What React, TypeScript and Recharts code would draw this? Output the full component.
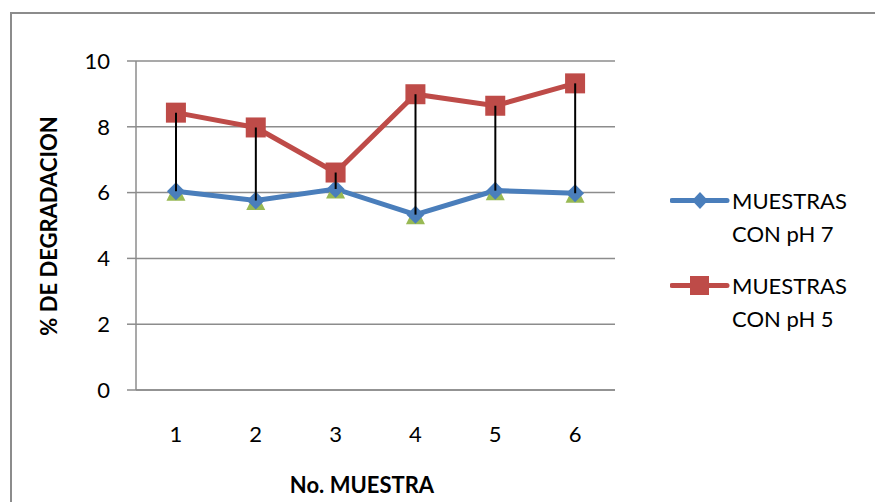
import React from 'react'
import { ComposedChart, Line, Bar, XAxis, YAxis, CartesianGrid } from 'recharts'

const categories = ['1', '2', '3', '4', '5', '6']
const ph7Values = [6.04, 5.76, 6.11, 5.33, 6.06, 5.98]
const ph5Values = [8.43, 7.98, 6.61, 8.99, 8.64, 9.32]
const serie3Values = [6.04, 5.76, 6.11, 5.33, 6.06, 5.98]
const yTicks = [0, 2, 4, 6, 8, 10]

const BLUE = '#4a7ebb'
const RED = '#be4b48'
const GREEN = '#98b954'
const GRID = '#8c8c8c'
const FONT = 'Lato, "Open Sans", sans-serif'

const data = categories.map((name, i) => {
  const vals = [ph7Values[i], ph5Values[i], serie3Values[i]]
  return {
    name,
    ph7: ph7Values[i],
    ph5: ph5Values[i],
    s3: serie3Values[i],
    hiLo: [Math.min(...vals), Math.max(...vals)],
  }
})

const diamond = (p: any) => {
  const { cx, cy, index } = p
  const r = 9
  return (
    <path key={`d-${index}`} d={`M${cx},${cy - r}L${cx + r},${cy}L${cx},${cy + r}L${cx - r},${cy}Z`} fill={BLUE} />
  )
}

const square = (p: any) => {
  const { cx, cy, index } = p
  const r = 10
  return <rect key={`s-${index}`} x={cx - r} y={cy - r} width={r * 2} height={r * 2} fill={RED} />
}

const triangle = (p: any) => {
  const { cx, cy, index } = p
  const r = 9.5
  return <path key={`t-${index}`} d={`M${cx},${cy - r}L${cx + r},${cy + r}L${cx - r},${cy + r}Z`} fill={GREEN} />
}

const legendItems = [
  { lines: ['MUESTRAS', 'CON pH 7'], color: BLUE, marker: 'diamond' },
  { lines: ['MUESTRAS', 'CON pH 5'], color: RED, marker: 'square' },
]

function LegendBox() {
  return (
    <div style={{ fontFamily: FONT, fontSize: 22, color: '#000' }}>
      {legendItems.map((item, i) => (
        <div key={i} style={{ display: 'flex', alignItems: 'flex-start', marginBottom: 19 }}>
          <svg width={62} height={33} style={{ display: 'block' }}>
            <line x1={2} y1={16.5} x2={57} y2={16.5} stroke={item.color} strokeWidth={5} strokeLinecap="round" />
            {item.marker === 'diamond' ? (
              <path d="M30,8L38,16.5L30,25L22,16.5Z" fill={item.color} />
            ) : (
              <rect x={20} y={7} width={19} height={19} fill={item.color} />
            )}
          </svg>
          <div style={{ lineHeight: '33px' }}>
            {item.lines.map((l) => (
              <div key={l}>{l}</div>
            ))}
          </div>
        </div>
      ))}
    </div>
  )
}

export default function App() {
  return (
    <div style={{ position: 'absolute', left: 0, top: 0, width: 875, height: 502, overflow: 'hidden', background: '#fff' }}>
      <div
        style={{
          position: 'absolute',
          left: 10,
          top: 12,
          width: 900,
          height: 540,
          border: `2px solid ${GRID}`,
        }}
      />
      <div style={{ position: 'absolute', left: 0, top: 0 }}>
        <ComposedChart width={875} height={502} data={data} margin={{ top: 61, right: 260, bottom: 0, left: 0 }}>
          <CartesianGrid vertical={false} stroke={GRID} strokeWidth={1.5} />
          <XAxis
            dataKey="name"
            height={112}
            axisLine={{ stroke: GRID, strokeWidth: 1.5 }}
            tickLine={false}
            tickSize={0}
            tickMargin={36}
            tick={{ fill: '#000', fontSize: 22, fontFamily: FONT }}
            label={{
              content: () => (
                <text x={362} y={493} textAnchor="middle" fontFamily={FONT} fontSize={22} fontWeight="bold" fill="#000">
                  No. MUESTRA
                </text>
              ),
            }}
          />
          <YAxis
            width={136}
            domain={[0, 10]}
            ticks={yTicks}
            axisLine={{ stroke: GRID, strokeWidth: 1.5 }}
            tickLine={{ stroke: GRID, strokeWidth: 1.5 }}
            tickSize={9}
            tickMargin={17}
            tick={{ fill: '#000', fontSize: 22, fontFamily: FONT }}
            label={{
              content: () => (
                <text
                  x={48}
                  y={226}
                  transform="rotate(-90 48 226)"
                  textAnchor="middle"
                  dominantBaseline="central"
                  fontFamily={FONT}
                  fontSize={22}
                  fontWeight="bold"
                  fill="#000"
                >
                  % DE DEGRADACION
                </text>
              ),
            }}
          />
          <Line
            dataKey="s3"
            stroke="none"
            dot={triangle}
            activeDot={false}
            legendType="none"
            isAnimationActive={false}
          />
          <Line
            dataKey="ph7"
            name="MUESTRAS CON pH 7"
            type="linear"
            stroke={BLUE}
            strokeWidth={5}
            dot={diamond}
            activeDot={false}
            isAnimationActive={false}
          />
          <Line
            dataKey="ph5"
            name="MUESTRAS CON pH 5"
            type="linear"
            stroke={RED}
            strokeWidth={5}
            dot={square}
            activeDot={false}
            isAnimationActive={false}
          />
          <Bar dataKey="hiLo" barSize={2} fill="#000" legendType="none" isAnimationActive={false} zIndex={700} />
        </ComposedChart>
      </div>
      <div style={{ position: 'absolute', left: 670, top: 184, width: 200 }}>
        <LegendBox />
      </div>
    </div>
  )
}
